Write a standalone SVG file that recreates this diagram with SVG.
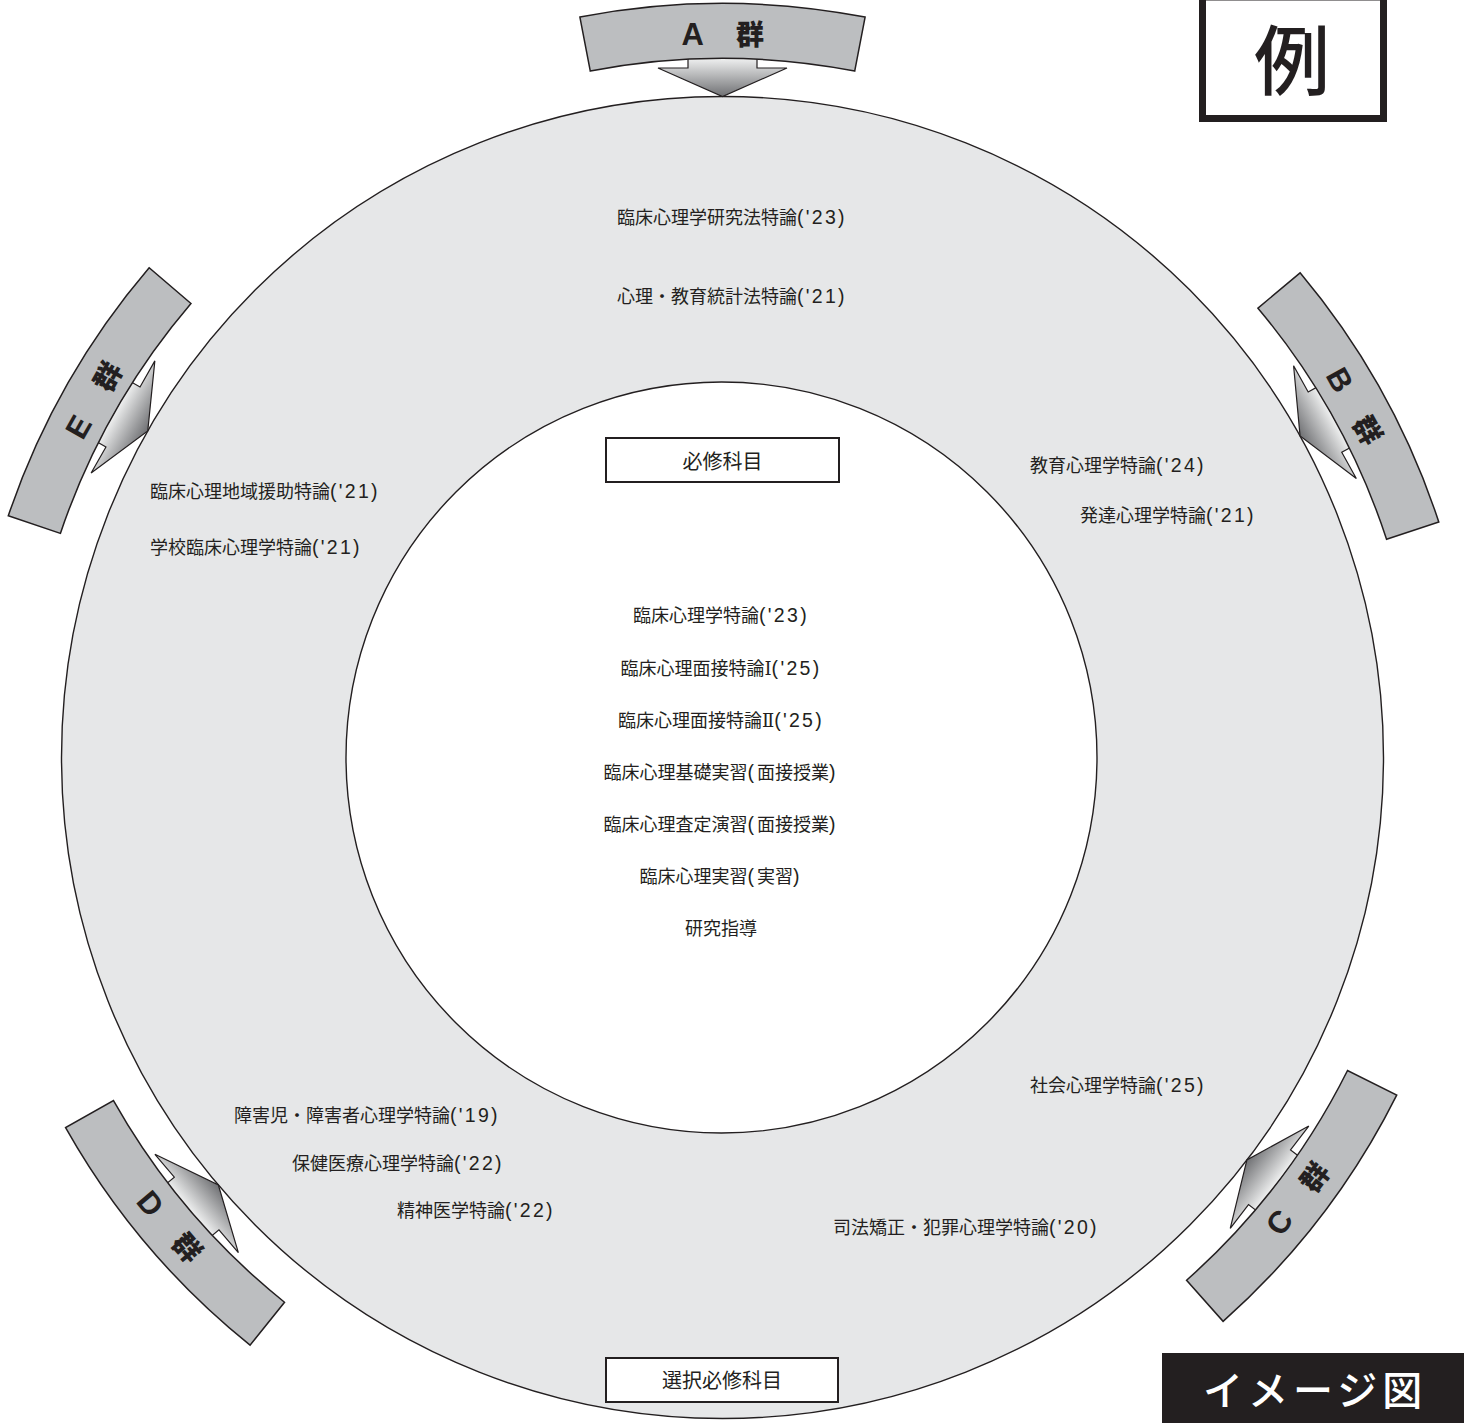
<svg xmlns="http://www.w3.org/2000/svg" width="1464" height="1423" viewBox="0 0 1464 1423">
<defs>
<linearGradient id="ag" gradientUnits="userSpaceOnUse" x1="722.5" y1="58" x2="722.5" y2="97">
<stop offset="0" stop-color="#f1f2f2"/><stop offset="1" stop-color="#6d6e71"/>
</linearGradient>
<path id="band" d="M579.9,17.1 A754,754 0 0 1 865.1,17.1 L854.7,71.1 A699,699 0 0 0 590.3,71.1 Z"/>
<polygon id="arrow" points="688,58 757,58 757,68 787,68 722.5,96.5 658,68 688,68"/>
</defs>
<style>
.t{font-family:'Noto Sans CJK JP',sans-serif;font-size:18px;fill:#231f20}
.m{text-anchor:middle}
.n{font-family:'Liberation Sans','Noto Sans CJK JP',sans-serif;font-size:19.5px;letter-spacing:2.3px}
.p{font-family:'Liberation Sans','Noto Sans CJK JP',sans-serif;font-size:19.5px;letter-spacing:3px}
.r{font-family:'DejaVu Serif','Liberation Serif',serif}
.band{fill:#bcbec0;stroke:#231f20;stroke-width:1.5}
.arr{fill:url(#ag);stroke:#231f20;stroke-width:1.2}
.lbl{font-family:'Noto Sans CJK JP',sans-serif;font-weight:900;font-size:28px;fill:#231f20}
.la{font-family:'Liberation Sans',sans-serif;font-weight:bold;font-size:31px}
.box{fill:#ffffff;stroke:#231f20;stroke-width:2}
.bt{font-family:'Noto Sans CJK JP',sans-serif;font-size:20px;font-weight:400;fill:#231f20;text-anchor:middle}
</style>

<g id="rings">
<circle cx="722.5" cy="757.5" r="661" fill="#e6e7e8" stroke="#231f20" stroke-width="1.4"/>
<circle cx="721.5" cy="757.5" r="375.5" fill="#ffffff" stroke="#231f20" stroke-width="1.4"/>
</g>

<g id="connectors">
<g id="group-a">
<use href="#arrow" class="arr"/>
<use href="#band" class="band"/>
<text class="lbl" x="681.5" y="45"><tspan class="la">A</tspan>　<tspan x="736">群</tspan></text>
</g>
<g id="group-b" transform="rotate(60.9 722.5 757.5)">
<use href="#arrow" class="arr"/>
<use href="#band" class="band"/>
<text class="lbl" x="681.5" y="45"><tspan class="la">B</tspan>　<tspan x="736">群</tspan></text>
</g>
<g id="group-c" transform="rotate(127.5 722.5 757.5)">
<use href="#arrow" class="arr"/>
<use href="#band" class="band"/>
<text class="lbl" x="681.5" y="45" transform="rotate(180 722.5 33.5)"><tspan class="la">C</tspan>　<tspan x="736">群</tspan></text>
</g>
<g id="group-d" transform="rotate(-130.3 722.5 757.5)">
<use href="#arrow" class="arr"/>
<use href="#band" class="band"/>
<text class="lbl" x="681.5" y="45" transform="rotate(180 722.5 33.5)"><tspan class="la">D</tspan>　<tspan x="736">群</tspan></text>
</g>
<g id="group-e" transform="rotate(-60.4 722.5 757.5)">
<use href="#arrow" class="arr"/>
<use href="#band" class="band"/>
<text class="lbl" x="681.5" y="45"><tspan class="la">E</tspan>　<tspan x="736">群</tspan></text>
</g>
</g>

<g id="outer-courses">
<text class="t" x="617" y="224">臨床心理学研究法特論<tspan class="n">('23)</tspan></text>
<text class="t" x="617" y="303">心理・教育統計法特論<tspan class="n">('21)</tspan></text>
<text class="t" x="1030" y="472">教育心理学特論<tspan class="n">('24)</tspan></text>
<text class="t" x="1080" y="522">発達心理学特論<tspan class="n">('21)</tspan></text>
<text class="t" x="150" y="498">臨床心理地域援助特論<tspan class="n">('21)</tspan></text>
<text class="t" x="150" y="554">学校臨床心理学特論<tspan class="n">('21)</tspan></text>
<text class="t" x="1030" y="1092">社会心理学特論<tspan class="n">('25)</tspan></text>
<text class="t" x="234" y="1122">障害児・障害者心理学特論<tspan class="n">('19)</tspan></text>
<text class="t" x="292" y="1170">保健医療心理学特論<tspan class="n">('22)</tspan></text>
<text class="t" x="397" y="1217">精神医学特論<tspan class="n">('22)</tspan></text>
<text class="t" x="833" y="1234">司法矯正・犯罪心理学特論<tspan class="n">('20)</tspan></text>
</g>

<g id="required-courses">
<text class="t m" x="721" y="622">臨床心理学特論<tspan class="n">('23)</tspan></text>
<text class="t m" x="721" y="675">臨床心理面接特論<tspan class="r">Ⅰ</tspan><tspan class="n">('25)</tspan></text>
<text class="t m" x="721" y="727">臨床心理面接特論<tspan class="r">Ⅱ</tspan><tspan class="n">('25)</tspan></text>
<text class="t m" x="721" y="779">臨床心理基礎実習<tspan class="p">(</tspan>面接授業<tspan class="p">)</tspan></text>
<text class="t m" x="721" y="831">臨床心理査定演習<tspan class="p">(</tspan>面接授業<tspan class="p">)</tspan></text>
<text class="t m" x="721" y="883">臨床心理実習<tspan class="p">(</tspan>実習<tspan class="p">)</tspan></text>
<text class="t m" x="721" y="935">研究指導</text>
</g>

<g id="label-required">
<rect class="box" x="606" y="438" width="233" height="44"/>
<text class="bt" x="722.5" y="468.5">必修科目</text>
</g>
<g id="label-elective">
<rect class="box" x="606" y="1358" width="232" height="44"/>
<text class="bt" x="722" y="1387.5">選択必修科目</text>
</g>

<g id="example-box">
<rect x="1202.5" y="-3" width="181" height="121.5" fill="#ffffff" stroke="#231f20" stroke-width="7"/>
<text x="1292" y="88.5" font-family="'Noto Sans CJK JP',sans-serif" font-size="76" font-weight="500" fill="#231f20" text-anchor="middle">例</text>
</g>

<g id="image-label">
<rect x="1162" y="1353" width="302" height="70" fill="#231f20"/>
<text x="1203" y="1405" font-family="'Noto Sans CJK JP',sans-serif" font-size="40" font-weight="500" fill="#ffffff" letter-spacing="5">イメージ図</text>
</g>
</svg>
